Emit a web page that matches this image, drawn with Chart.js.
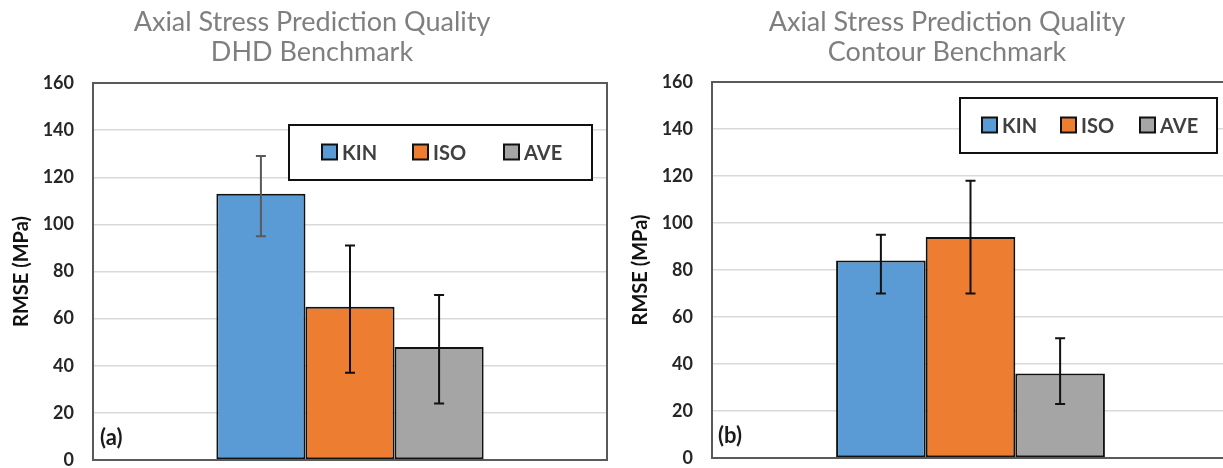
<!DOCTYPE html>
<html>
<head>
<meta charset="utf-8">
<script src="https://cdn.jsdelivr.net/npm/chart.js@4.4.1/dist/chart.umd.min.js"></script>
<style>
  html, body { margin: 0; padding: 0; background: #fff; overflow: hidden; width: 1223px; height: 468px; position: relative; }
  canvas { position: absolute; top: 0; }
  #chart-dhd { left: 0; }
  #chart-contour { left: 619px; }
</style>
</head>
<body>
<!-- canvases run a little past the bottom edge so the plot floor lands where the picture has it -->
<canvas id="chart-dhd" width="615" height="492"></canvas>
<canvas id="chart-contour" width="625" height="490"></canvas>
<script>
// Series names and colours
const seriesNames = ['KIN', 'ISO', 'AVE'];
const seriesColors = ['#5b9bd5', '#ed7d31', '#a5a5a5'];

// (a) DHD benchmark
const dhdRmse = [113, 65, 48];
const dhdErrHigh = [129, 91, 70];
const dhdErrLow = [95, 37, 24];

// (b) Contour benchmark
const contourRmse = [84, 94, 36];
const contourErrHigh = [95, 118, 51];
const contourErrLow = [70, 70, 23];

// y axis ticks
const yTicks = [0, 20, 40, 60, 80, 100, 120, 140, 160];

const FONT = 'Lato, "Open Sans", sans-serif';

// Frame, panel label, title, legend, error bars
const decorPlugin = {
    id: 'decor',
    beforeDatasetsDraw(chart, args, opts) {
        const ctx = chart.ctx;
        const a = chart.chartArea;
        ctx.save();
        // white patch behind panel label
        ctx.fillStyle = '#fff';
        ctx.fillRect(a.left + opts.tagX - 1, a.bottom - 38, 46, 32);
        ctx.fillStyle = '#1a1a1a';
        ctx.font = 'bold 22px ' + FONT;
        ctx.textBaseline = 'middle';
        ctx.textAlign = 'left';
        ctx.fillText(opts.tag, a.left + opts.tagX, a.bottom - 22);
        ctx.restore();
    },
    afterDatasetsDraw(chart, args, opts) {
        const ctx = chart.ctx;
        const a = chart.chartArea;
        const y = chart.scales.y;
        ctx.save();
        // error bars
        chart.data.datasets.forEach((ds, i) => {
            const bar = chart.getDatasetMeta(i).data[0];
            const yh = y.getPixelForValue(opts.high[i]);
            const yl = y.getPixelForValue(opts.low[i]);
            ctx.strokeStyle = opts.errColors[i];
            ctx.lineWidth = 2;
            ctx.beginPath();
            ctx.moveTo(bar.x, yh); ctx.lineTo(bar.x, yl);
            ctx.moveTo(bar.x - 5, yh); ctx.lineTo(bar.x + 5, yh);
            ctx.moveTo(bar.x - 5, yl); ctx.lineTo(bar.x + 5, yl);
            ctx.stroke();
        });
        // plot frame
        ctx.strokeStyle = '#595959';
        ctx.lineWidth = 2;
        ctx.strokeRect(a.left, a.top, a.right - a.left, a.bottom - a.top);

        // legend box
        const L = opts.legend;
        const bx = a.right - L.right - L.w;
        const by = a.top + L.top;
        ctx.fillStyle = '#fff';
        ctx.fillRect(bx, by, L.w, L.h);
        ctx.strokeStyle = '#111';
        ctx.lineWidth = 2;
        ctx.strokeRect(bx, by, L.w, L.h);
        ctx.font = 'bold 20px ' + FONT;
        ctx.textBaseline = 'middle';
        ctx.textAlign = 'left';
        const cy = by + L.h / 2;
        chart.data.datasets.forEach((ds, i) => {
            const sx = bx + L.first + i * L.gap;
            ctx.fillStyle = ds.backgroundColor;
            ctx.fillRect(sx, cy - 8, 15, 15);
            ctx.strokeStyle = '#111';
            ctx.lineWidth = 2;
            ctx.strokeRect(sx, cy - 8, 15, 15);
            ctx.fillStyle = '#404040';
            ctx.fillText(ds.label, sx + 20, cy + 1);
        });

        // title
        ctx.fillStyle = '#7f7f7f';
        ctx.font = '27px ' + FONT;
        ctx.textAlign = 'center';
        ctx.textBaseline = 'alphabetic';
        ctx.fillText(opts.title[0], opts.titleX, 31);
        ctx.fillText(opts.title[1], opts.titleX, 61);
        ctx.restore();
    }
};

function makeChart(id, values, high, low, errColors, decor, padding) {
    new Chart(document.getElementById(id), {
        type: 'bar',
        data: {
            labels: [''],
            datasets: seriesNames.map((name, i) => ({
                label: name,
                data: [values[i]],
                backgroundColor: seriesColors[i],
                borderColor: '#111',
                borderWidth: 2,
                borderSkipped: false
            }))
        },
        options: {
            responsive: false,
            animation: false,
            layout: { padding: padding },
            datasets: { bar: { categoryPercentage: 0.52, barPercentage: 1 } },
            scales: {
                x: { display: false },
                y: {
                    min: 0,
                    max: 160,
                    afterBuildTicks: (scale) => { scale.ticks = yTicks.map(v => ({ value: v })); },
                    afterFit: (scale) => { scale.width = 93; },
                    grid: { color: '#d9d9d9', lineWidth: 1.5, drawTicks: false },
                    border: { display: false },
                    ticks: {
                        padding: 19,
                        color: '#262626',
                        font: { family: FONT, size: 18, weight: 'bold', lineHeight: 1 }
                    },
                    title: {
                        display: true,
                        text: 'RMSE (MPa)',
                        color: '#111',
                        padding: { top: 10, bottom: 0 },
                        font: { family: FONT, size: 20, weight: 'bold' }
                    }
                }
            },
            plugins: {
                legend: { display: false },
                tooltip: { enabled: false },
                decor: Object.assign({ high: high, low: low, errColors: errColors }, decor)
            }
        },
        plugins: [decorPlugin]
    });
}

makeChart('chart-dhd', dhdRmse, dhdErrHigh, dhdErrLow,
    ['#595959', '#111', '#111'],
    {
        tag: '(a)', tagX: 7,
        title: ['Axial Stress Prediction Quality', 'DHD Benchmark'], titleX: 312,
        legend: { right: 15, top: 42, w: 303, h: 55, first: 33, gap: 91 }
    },
    { top: 83, bottom: 32, left: 0, right: 8 });

makeChart('chart-contour', contourRmse, contourErrHigh, contourErrLow,
    ['#111', '#111', '#111'],
    {
        tag: '(b)', tagX: 6,
        title: ['Axial Stress Prediction Quality', 'Contour Benchmark'], titleX: 947 - 619,
        legend: { right: 12, top: 16, w: 257, h: 55, first: 22, gap: 79 }
    },
    { top: 82, bottom: 32, left: 0, right: 15 });
</script>
</body>
</html>
